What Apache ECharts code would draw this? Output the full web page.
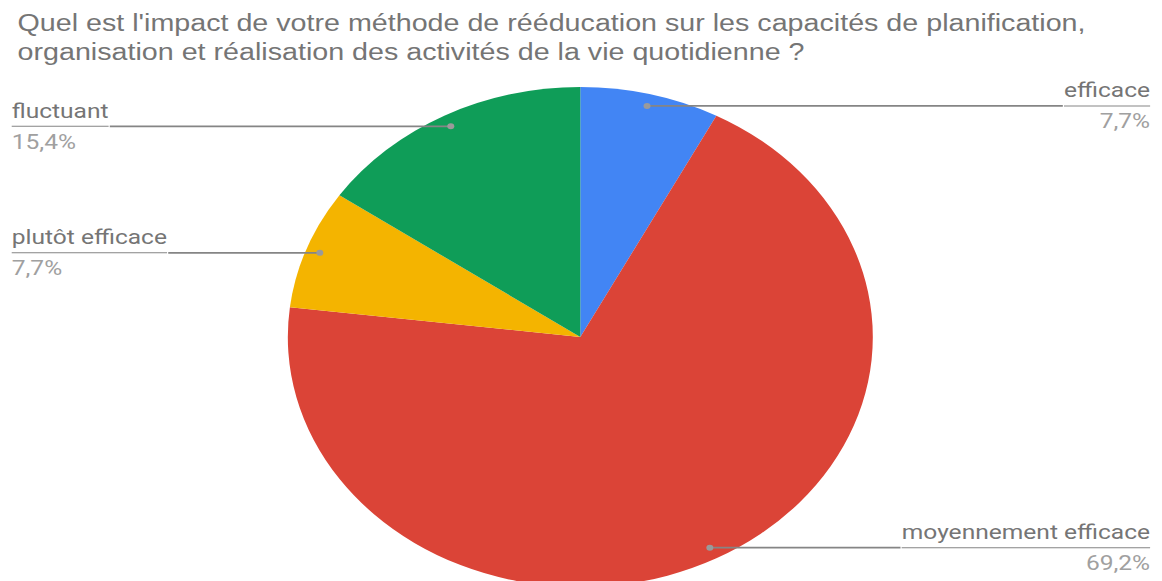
<!DOCTYPE html>
<html>
<head>
<meta charset="utf-8">
<script src="https://cdn.jsdelivr.net/npm/echarts@6/dist/echarts.min.js"></script>
<style>
html,body{margin:0;padding:0;background:#fff;overflow:hidden;}
#wrap{width:1162px;height:581px;overflow:hidden;position:relative;}
#chart{width:993px;height:581px;transform:scaleX(1.17);transform-origin:0 0;}
</style>
</head>
<body>
<div id="wrap"><div id="chart"></div></div>
<script>
var titleText = "Quel est l'impact de votre méthode de rééducation sur les capacités de planification,\norganisation et réalisation des activités de la vie quotidienne ?";
var categories = ["efficace", "moyennement efficace", "plutôt efficace", "fluctuant"];
var values = [7.7, 69.2, 7.7, 15.4];
var colors = ["#4285f4", "#db4437", "#f4b400", "#0f9d58"];

var data = categories.map(function (c, i) { return { name: c, value: values[i] }; });
function pct(v) { return v.toFixed(1).replace('.', ',') + '%'; }

var lineColor = '#858585';

var chart = echarts.init(document.getElementById('chart'), null, { renderer: 'svg' });
chart.setOption({
  animation: false,
  backgroundColor: '#ffffff',
  color: colors,
  title: {
    text: titleText,
    left: 10,
    top: 3,
    textStyle: {
      fontFamily: 'Liberation Sans, Arial, sans-serif',
      fontSize: 24.5,
      fontWeight: 'normal',
      color: '#757575',
      lineHeight: 29
    }
  },
  series: [
    {
      type: 'pie',
      z: 1,
      center: [496, 337],
      radius: 250,
      startAngle: 90,
      clockwise: true,
      silent: true,
      label: { show: false },
      labelLine: { show: false },
      itemStyle: { borderWidth: 0 },
      data: data
    },
    {
      type: 'pie',
      z: 5,
      center: [496, 337],
      radius: 238,
      startAngle: 90,
      clockwise: true,
      silent: true,
      itemStyle: { color: 'rgba(0,0,0,0)', borderWidth: 0 },
      label: {
        show: true,
        position: 'outside',
        alignTo: 'edge',
        edgeDistance: 10,
        distanceToLabelLine: 0,
        formatter: function (p) {
          return '{n|' + p.name + '}\n{hr|}\n{p|' + pct(p.value) + '}';
        },
        rich: {
          n: { fontFamily: 'Roboto, sans-serif', fontSize: 21, color: '#757575', lineHeight: 31 },
          hr: { width: '100%', height: 0, borderColor: lineColor, borderWidth: 1 },
          p: { fontFamily: 'Roboto, sans-serif', fontSize: 21, color: '#a0a0a0', lineHeight: 31 }
        }
      },
      labelLine: {
        show: true,
        length: 0,
        length2: 10,
        smooth: false,
        lineStyle: { color: lineColor, width: 1.8 }
      },
      data: data
    },
    {
      type: 'pie',
      z: 6,
      center: [496, 337],
      radius: 238,
      startAngle: 90,
      clockwise: true,
      silent: true,
      avoidLabelOverlap: false,
      itemStyle: { color: 'rgba(0,0,0,0)', borderWidth: 0 },
      label: {
        show: true,
        position: 'outside',
        distanceToLabelLine: -3,
        formatter: '{d|}',
        rich: {
          d: { width: 6, height: 6, borderRadius: 3, backgroundColor: '#9a9a9a' }
        }
      },
      labelLine: { show: false, length: 0, length2: 0 },
      data: data
    }
  ]
});
</script>
</body>
</html>
